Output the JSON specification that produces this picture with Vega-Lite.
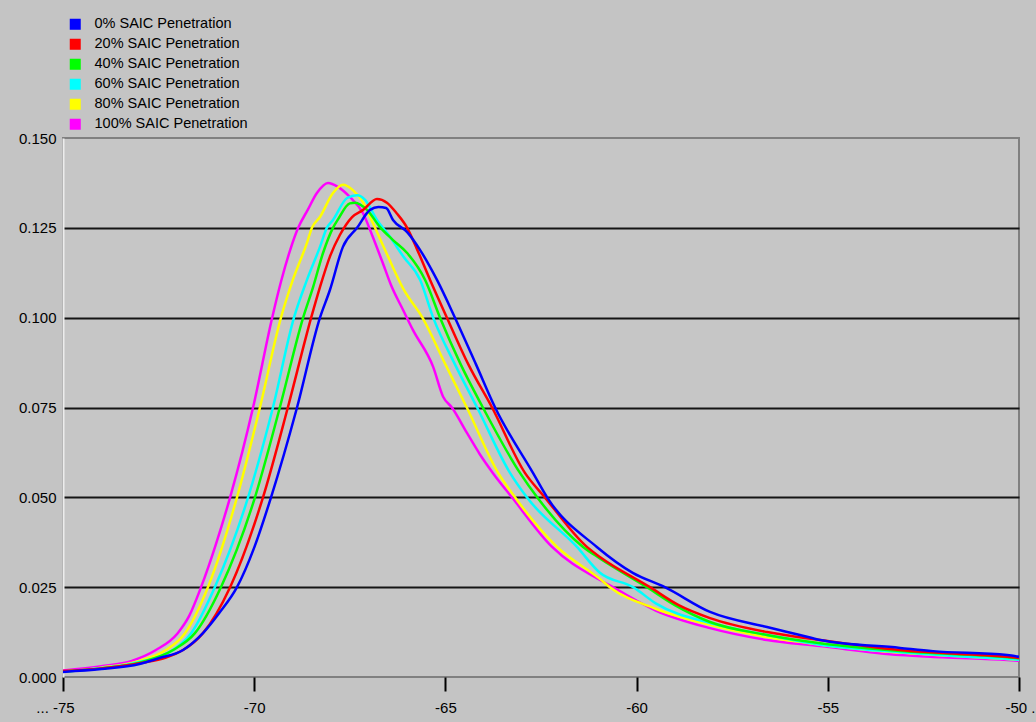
{
  "$schema": "https://vega.github.io/schema/vega-lite/v6.json",
  "width": 956,
  "height": 539,
  "autosize": {"type": "none"},
  "padding": {"left": 63, "top": 138, "right": 17, "bottom": 45},
  "background": "#c4c4c4",
  "config": {
    "view": {"fill": "#c6c6c6", "stroke": "#808080", "strokeWidth": 2},
    "font": "Liberation Sans"
  },
  "datasets": {
    "curves": [
      {"s": "100% SAIC Penetration", "x": -75, "y": 0.0018},
      {"s": "100% SAIC Penetration", "x": -74, "y": 0.003},
      {"s": "100% SAIC Penetration", "x": -73.2, "y": 0.0045},
      {"s": "100% SAIC Penetration", "x": -72.57, "y": 0.0075},
      {"s": "100% SAIC Penetration", "x": -72.0, "y": 0.0122},
      {"s": "100% SAIC Penetration", "x": -71.7, "y": 0.017},
      {"s": "100% SAIC Penetration", "x": -71.39, "y": 0.025},
      {"s": "100% SAIC Penetration", "x": -71.0, "y": 0.037},
      {"s": "100% SAIC Penetration", "x": -70.63, "y": 0.05},
      {"s": "100% SAIC Penetration", "x": -70.03, "y": 0.075},
      {"s": "100% SAIC Penetration", "x": -69.53, "y": 0.1},
      {"s": "100% SAIC Penetration", "x": -69.3, "y": 0.11},
      {"s": "100% SAIC Penetration", "x": -69.06, "y": 0.1188},
      {"s": "100% SAIC Penetration", "x": -68.85, "y": 0.125},
      {"s": "100% SAIC Penetration", "x": -68.6, "y": 0.13},
      {"s": "100% SAIC Penetration", "x": -68.36, "y": 0.1347},
      {"s": "100% SAIC Penetration", "x": -68.07, "y": 0.1375},
      {"s": "100% SAIC Penetration", "x": -67.81, "y": 0.1364},
      {"s": "100% SAIC Penetration", "x": -67.5, "y": 0.1336},
      {"s": "100% SAIC Penetration", "x": -67.15, "y": 0.129},
      {"s": "100% SAIC Penetration", "x": -66.9, "y": 0.1225},
      {"s": "100% SAIC Penetration", "x": -66.63, "y": 0.115},
      {"s": "100% SAIC Penetration", "x": -66.42, "y": 0.109},
      {"s": "100% SAIC Penetration", "x": -66.1, "y": 0.102},
      {"s": "100% SAIC Penetration", "x": -65.85, "y": 0.0966},
      {"s": "100% SAIC Penetration", "x": -65.32, "y": 0.0863},
      {"s": "100% SAIC Penetration", "x": -65.06, "y": 0.078},
      {"s": "100% SAIC Penetration", "x": -64.83, "y": 0.075},
      {"s": "100% SAIC Penetration", "x": -64.44, "y": 0.068},
      {"s": "100% SAIC Penetration", "x": -64.1, "y": 0.062},
      {"s": "100% SAIC Penetration", "x": -63.76, "y": 0.0568},
      {"s": "100% SAIC Penetration", "x": -63.26, "y": 0.05},
      {"s": "100% SAIC Penetration", "x": -62.21, "y": 0.0362},
      {"s": "100% SAIC Penetration", "x": -60.96, "y": 0.027},
      {"s": "100% SAIC Penetration", "x": -60.62, "y": 0.025},
      {"s": "100% SAIC Penetration", "x": -59.5, "y": 0.0185},
      {"s": "100% SAIC Penetration", "x": -58.08, "y": 0.0136},
      {"s": "100% SAIC Penetration", "x": -56.59, "y": 0.0103},
      {"s": "100% SAIC Penetration", "x": -55.2, "y": 0.0086},
      {"s": "100% SAIC Penetration", "x": -53.11, "y": 0.0061},
      {"s": "100% SAIC Penetration", "x": -52, "y": 0.0055},
      {"s": "100% SAIC Penetration", "x": -50.31, "y": 0.0047},
      {"s": "100% SAIC Penetration", "x": -50, "y": 0.0045},

      {"s": "80% SAIC Penetration", "x": -75, "y": 0.0015},
      {"s": "80% SAIC Penetration", "x": -74, "y": 0.0026},
      {"s": "80% SAIC Penetration", "x": -73, "y": 0.0045},
      {"s": "80% SAIC Penetration", "x": -72.31, "y": 0.0075},
      {"s": "80% SAIC Penetration", "x": -71.81, "y": 0.0122},
      {"s": "80% SAIC Penetration", "x": -71.21, "y": 0.025},
      {"s": "80% SAIC Penetration", "x": -70.45, "y": 0.05},
      {"s": "80% SAIC Penetration", "x": -69.85, "y": 0.075},
      {"s": "80% SAIC Penetration", "x": -69.3, "y": 0.1},
      {"s": "80% SAIC Penetration", "x": -68.99, "y": 0.1105},
      {"s": "80% SAIC Penetration", "x": -68.62, "y": 0.1208},
      {"s": "80% SAIC Penetration", "x": -68.49, "y": 0.125},
      {"s": "80% SAIC Penetration", "x": -68.28, "y": 0.128},
      {"s": "80% SAIC Penetration", "x": -67.94, "y": 0.1347},
      {"s": "80% SAIC Penetration", "x": -67.68, "y": 0.137},
      {"s": "80% SAIC Penetration", "x": -67.42, "y": 0.1355},
      {"s": "80% SAIC Penetration", "x": -67.15, "y": 0.132},
      {"s": "80% SAIC Penetration", "x": -66.9, "y": 0.1264},
      {"s": "80% SAIC Penetration", "x": -66.5, "y": 0.117},
      {"s": "80% SAIC Penetration", "x": -66.1, "y": 0.108},
      {"s": "80% SAIC Penetration", "x": -65.6, "y": 0.1},
      {"s": "80% SAIC Penetration", "x": -65.0, "y": 0.087},
      {"s": "80% SAIC Penetration", "x": -64.44, "y": 0.075},
      {"s": "80% SAIC Penetration", "x": -63.62, "y": 0.0568},
      {"s": "80% SAIC Penetration", "x": -63.18, "y": 0.05},
      {"s": "80% SAIC Penetration", "x": -62.08, "y": 0.0362},
      {"s": "80% SAIC Penetration", "x": -60.96, "y": 0.0273},
      {"s": "80% SAIC Penetration", "x": -60.7, "y": 0.025},
      {"s": "80% SAIC Penetration", "x": -59.5, "y": 0.019},
      {"s": "80% SAIC Penetration", "x": -58.08, "y": 0.0145},
      {"s": "80% SAIC Penetration", "x": -56.59, "y": 0.0111},
      {"s": "80% SAIC Penetration", "x": -55.2, "y": 0.009},
      {"s": "80% SAIC Penetration", "x": -53.11, "y": 0.0068},
      {"s": "80% SAIC Penetration", "x": -50.31, "y": 0.005},
      {"s": "80% SAIC Penetration", "x": -50, "y": 0.0048},

      {"s": "60% SAIC Penetration", "x": -75, "y": 0.0015},
      {"s": "60% SAIC Penetration", "x": -74, "y": 0.0025},
      {"s": "60% SAIC Penetration", "x": -73, "y": 0.0042},
      {"s": "60% SAIC Penetration", "x": -72.12, "y": 0.0075},
      {"s": "60% SAIC Penetration", "x": -71.65, "y": 0.0122},
      {"s": "60% SAIC Penetration", "x": -71.03, "y": 0.025},
      {"s": "60% SAIC Penetration", "x": -70.16, "y": 0.05},
      {"s": "60% SAIC Penetration", "x": -69.51, "y": 0.075},
      {"s": "60% SAIC Penetration", "x": -68.96, "y": 0.1},
      {"s": "60% SAIC Penetration", "x": -68.62, "y": 0.1105},
      {"s": "60% SAIC Penetration", "x": -68.28, "y": 0.1197},
      {"s": "60% SAIC Penetration", "x": -68.1, "y": 0.125},
      {"s": "60% SAIC Penetration", "x": -67.94, "y": 0.1272},
      {"s": "60% SAIC Penetration", "x": -67.57, "y": 0.1333},
      {"s": "60% SAIC Penetration", "x": -67.31, "y": 0.1341},
      {"s": "60% SAIC Penetration", "x": -67.1, "y": 0.1328},
      {"s": "60% SAIC Penetration", "x": -66.79, "y": 0.1272},
      {"s": "60% SAIC Penetration", "x": -66.45, "y": 0.1225},
      {"s": "60% SAIC Penetration", "x": -66.1, "y": 0.117},
      {"s": "60% SAIC Penetration", "x": -65.66, "y": 0.1105},
      {"s": "60% SAIC Penetration", "x": -65.32, "y": 0.1},
      {"s": "60% SAIC Penetration", "x": -64.75, "y": 0.087},
      {"s": "60% SAIC Penetration", "x": -64.17, "y": 0.075},
      {"s": "60% SAIC Penetration", "x": -63.31, "y": 0.0568},
      {"s": "60% SAIC Penetration", "x": -62.87, "y": 0.05},
      {"s": "60% SAIC Penetration", "x": -61.56, "y": 0.0362},
      {"s": "60% SAIC Penetration", "x": -60.96, "y": 0.029},
      {"s": "60% SAIC Penetration", "x": -60.09, "y": 0.025},
      {"s": "60% SAIC Penetration", "x": -59.5, "y": 0.0205},
      {"s": "60% SAIC Penetration", "x": -58.08, "y": 0.015},
      {"s": "60% SAIC Penetration", "x": -56.59, "y": 0.0117},
      {"s": "60% SAIC Penetration", "x": -55.2, "y": 0.009},
      {"s": "60% SAIC Penetration", "x": -53.11, "y": 0.0069},
      {"s": "60% SAIC Penetration", "x": -50.31, "y": 0.005},
      {"s": "60% SAIC Penetration", "x": -50, "y": 0.0048},

      {"s": "40% SAIC Penetration", "x": -75, "y": 0.0015},
      {"s": "40% SAIC Penetration", "x": -74, "y": 0.0024},
      {"s": "40% SAIC Penetration", "x": -73, "y": 0.004},
      {"s": "40% SAIC Penetration", "x": -72.12, "y": 0.0075},
      {"s": "40% SAIC Penetration", "x": -71.55, "y": 0.0122},
      {"s": "40% SAIC Penetration", "x": -70.87, "y": 0.025},
      {"s": "40% SAIC Penetration", "x": -69.98, "y": 0.05},
      {"s": "40% SAIC Penetration", "x": -69.33, "y": 0.075},
      {"s": "40% SAIC Penetration", "x": -68.72, "y": 0.1},
      {"s": "40% SAIC Penetration", "x": -68.46, "y": 0.1085},
      {"s": "40% SAIC Penetration", "x": -68.2, "y": 0.118},
      {"s": "40% SAIC Penetration", "x": -67.94, "y": 0.125},
      {"s": "40% SAIC Penetration", "x": -67.8, "y": 0.1275},
      {"s": "40% SAIC Penetration", "x": -67.5, "y": 0.1318},
      {"s": "40% SAIC Penetration", "x": -67.36, "y": 0.132},
      {"s": "40% SAIC Penetration", "x": -67.05, "y": 0.13},
      {"s": "40% SAIC Penetration", "x": -66.71, "y": 0.1252},
      {"s": "40% SAIC Penetration", "x": -66.37, "y": 0.1216},
      {"s": "40% SAIC Penetration", "x": -66.0, "y": 0.118},
      {"s": "40% SAIC Penetration", "x": -65.53, "y": 0.1105},
      {"s": "40% SAIC Penetration", "x": -65.14, "y": 0.1},
      {"s": "40% SAIC Penetration", "x": -64.6, "y": 0.087},
      {"s": "40% SAIC Penetration", "x": -64.02, "y": 0.075},
      {"s": "40% SAIC Penetration", "x": -63.05, "y": 0.0568},
      {"s": "40% SAIC Penetration", "x": -62.6, "y": 0.05},
      {"s": "40% SAIC Penetration", "x": -61.4, "y": 0.0362},
      {"s": "40% SAIC Penetration", "x": -60.96, "y": 0.033},
      {"s": "40% SAIC Penetration", "x": -59.73, "y": 0.025},
      {"s": "40% SAIC Penetration", "x": -59.0, "y": 0.02},
      {"s": "40% SAIC Penetration", "x": -58.08, "y": 0.0153},
      {"s": "40% SAIC Penetration", "x": -56.59, "y": 0.0117},
      {"s": "40% SAIC Penetration", "x": -55.2, "y": 0.0094},
      {"s": "40% SAIC Penetration", "x": -53.11, "y": 0.0072},
      {"s": "40% SAIC Penetration", "x": -50.31, "y": 0.0055},
      {"s": "40% SAIC Penetration", "x": -50, "y": 0.0052},

      {"s": "20% SAIC Penetration", "x": -75, "y": 0.0017},
      {"s": "20% SAIC Penetration", "x": -74, "y": 0.0024},
      {"s": "20% SAIC Penetration", "x": -73, "y": 0.0038},
      {"s": "20% SAIC Penetration", "x": -71.86, "y": 0.0075},
      {"s": "20% SAIC Penetration", "x": -71.34, "y": 0.0122},
      {"s": "20% SAIC Penetration", "x": -70.63, "y": 0.025},
      {"s": "20% SAIC Penetration", "x": -69.77, "y": 0.05},
      {"s": "20% SAIC Penetration", "x": -69.12, "y": 0.075},
      {"s": "20% SAIC Penetration", "x": -68.51, "y": 0.1},
      {"s": "20% SAIC Penetration", "x": -68.28, "y": 0.1085},
      {"s": "20% SAIC Penetration", "x": -68.02, "y": 0.117},
      {"s": "20% SAIC Penetration", "x": -67.76, "y": 0.123},
      {"s": "20% SAIC Penetration", "x": -67.44, "y": 0.128},
      {"s": "20% SAIC Penetration", "x": -67.15, "y": 0.13},
      {"s": "20% SAIC Penetration", "x": -66.79, "y": 0.133},
      {"s": "20% SAIC Penetration", "x": -66.53, "y": 0.132},
      {"s": "20% SAIC Penetration", "x": -66.27, "y": 0.129},
      {"s": "20% SAIC Penetration", "x": -66.0, "y": 0.125},
      {"s": "20% SAIC Penetration", "x": -65.74, "y": 0.119},
      {"s": "20% SAIC Penetration", "x": -65.4, "y": 0.1105},
      {"s": "20% SAIC Penetration", "x": -64.96, "y": 0.1},
      {"s": "20% SAIC Penetration", "x": -64.4, "y": 0.087},
      {"s": "20% SAIC Penetration", "x": -63.78, "y": 0.075},
      {"s": "20% SAIC Penetration", "x": -62.92, "y": 0.0568},
      {"s": "20% SAIC Penetration", "x": -62.4, "y": 0.05},
      {"s": "20% SAIC Penetration", "x": -61.3, "y": 0.0362},
      {"s": "20% SAIC Penetration", "x": -60.96, "y": 0.0334},
      {"s": "20% SAIC Penetration", "x": -59.65, "y": 0.025},
      {"s": "20% SAIC Penetration", "x": -58.9, "y": 0.02},
      {"s": "20% SAIC Penetration", "x": -58.08, "y": 0.0164},
      {"s": "20% SAIC Penetration", "x": -56.59, "y": 0.0125},
      {"s": "20% SAIC Penetration", "x": -55.2, "y": 0.0103},
      {"s": "20% SAIC Penetration", "x": -53.11, "y": 0.0075},
      {"s": "20% SAIC Penetration", "x": -50.31, "y": 0.0056},
      {"s": "20% SAIC Penetration", "x": -50, "y": 0.0053},

      {"s": "0% SAIC Penetration", "x": -75, "y": 0.0014},
      {"s": "0% SAIC Penetration", "x": -74, "y": 0.0022},
      {"s": "0% SAIC Penetration", "x": -73, "y": 0.0036},
      {"s": "0% SAIC Penetration", "x": -72.5, "y": 0.0052},
      {"s": "0% SAIC Penetration", "x": -71.86, "y": 0.0075},
      {"s": "0% SAIC Penetration", "x": -71.34, "y": 0.0122},
      {"s": "0% SAIC Penetration", "x": -70.9, "y": 0.018},
      {"s": "0% SAIC Penetration", "x": -70.45, "y": 0.025},
      {"s": "0% SAIC Penetration", "x": -70.0, "y": 0.036},
      {"s": "0% SAIC Penetration", "x": -69.56, "y": 0.05},
      {"s": "0% SAIC Penetration", "x": -68.88, "y": 0.075},
      {"s": "0% SAIC Penetration", "x": -68.28, "y": 0.1},
      {"s": "0% SAIC Penetration", "x": -68.02, "y": 0.1077},
      {"s": "0% SAIC Penetration", "x": -67.68, "y": 0.1197},
      {"s": "0% SAIC Penetration", "x": -67.31, "y": 0.125},
      {"s": "0% SAIC Penetration", "x": -66.97, "y": 0.13},
      {"s": "0% SAIC Penetration", "x": -66.75, "y": 0.1308},
      {"s": "0% SAIC Penetration", "x": -66.55, "y": 0.1305},
      {"s": "0% SAIC Penetration", "x": -66.37, "y": 0.1272},
      {"s": "0% SAIC Penetration", "x": -66.0, "y": 0.1238},
      {"s": "0% SAIC Penetration", "x": -65.66, "y": 0.1188},
      {"s": "0% SAIC Penetration", "x": -65.22, "y": 0.1105},
      {"s": "0% SAIC Penetration", "x": -64.75, "y": 0.1},
      {"s": "0% SAIC Penetration", "x": -64.2, "y": 0.087},
      {"s": "0% SAIC Penetration", "x": -63.7, "y": 0.075},
      {"s": "0% SAIC Penetration", "x": -62.71, "y": 0.0568},
      {"s": "0% SAIC Penetration", "x": -62.34, "y": 0.05},
      {"s": "0% SAIC Penetration", "x": -61.04, "y": 0.0362},
      {"s": "0% SAIC Penetration", "x": -60.1, "y": 0.029},
      {"s": "0% SAIC Penetration", "x": -59.26, "y": 0.025},
      {"s": "0% SAIC Penetration", "x": -58.08, "y": 0.0181},
      {"s": "0% SAIC Penetration", "x": -56.59, "y": 0.0139},
      {"s": "0% SAIC Penetration", "x": -55.73, "y": 0.0117},
      {"s": "0% SAIC Penetration", "x": -55.2, "y": 0.0103},
      {"s": "0% SAIC Penetration", "x": -53.11, "y": 0.0081},
      {"s": "0% SAIC Penetration", "x": -52.25, "y": 0.0072},
      {"s": "0% SAIC Penetration", "x": -50.31, "y": 0.0061},
      {"s": "0% SAIC Penetration", "x": -50, "y": 0.0056}
    ]
  },
  "data": {"name": "curves"},
  "mark": {"type": "line", "strokeWidth": 2.5, "interpolate": "monotone", "clip": true},
  "encoding": {
    "x": {
      "field": "x",
      "type": "quantitative",
      "scale": {"domain": [-75, -50], "nice": false, "zero": false},
      "axis": {
        "title": null,
        "values": [-75, -70, -65, -60, -55, -50],
        "grid": false,
        "domain": false,
        "ticks": true,
        "tickSize": 14,
        "tickWidth": 2,
        "tickColor": "#000000",
        "labelFont": "Liberation Sans",
        "labelFontSize": 15,
        "labelColor": "#000000",
        "labelPadding": 9,
        "labelFlush": false,
        "labelOverlap": false,
        "labelBound": false,
        "labelAlign": "center",
        "labelExpr": "datum.value == -75 ? '... -75' : (datum.value == -50 ? '-50 .' : '' + datum.value)",
        "labelOffset": {"condition": [{"test": "datum.value == -75", "value": -8}, {"test": "datum.value == -50", "value": 1}], "value": 0}
      }
    },
    "y": {
      "field": "y",
      "type": "quantitative",
      "scale": {"domain": [0, 0.15], "nice": false},
      "axis": {
        "title": null,
        "values": [0, 0.025, 0.05, 0.075, 0.1, 0.125, 0.15],
        "format": ".3f",
        "grid": true,
        "gridColor": "#141414",
        "gridWidth": 2,
        "gridOpacity": {"condition": {"test": "datum.value < 0.001 || datum.value > 0.149", "value": 0}, "value": 1},
        "ticks": false,
        "domain": true,
        "domainColor": "#ececec",
        "domainWidth": 2,
        "labelFont": "Liberation Sans",
        "labelFontSize": 15,
        "labelColor": "#000000",
        "labelPadding": 7
      }
    },
    "color": {
      "field": "s",
      "type": "nominal",
      "scale": {
        "domain": ["0% SAIC Penetration", "20% SAIC Penetration", "40% SAIC Penetration", "60% SAIC Penetration", "80% SAIC Penetration", "100% SAIC Penetration"],
        "range": ["#0000ff", "#ff0000", "#00ff00", "#00ffff", "#ffff00", "#ff00ff"]
      },
      "legend": {
        "title": null,
        "orient": "none",
        "legendX": 5,
        "legendY": -121,
        "padding": 0,
        "symbolType": "square",
        "symbolSize": 121,
        "symbolStrokeWidth": 0,
        "labelFont": "Liberation Sans",
        "labelFontSize": 14.5,
        "labelColor": "#000000",
        "labelOffset": 12,
        "rowPadding": 5,
        "encode": {"symbols": {"update": {"fill": {"scale": "color", "field": "value"}, "stroke": {"value": "transparent"}}}}
      }
    }
  }
}
